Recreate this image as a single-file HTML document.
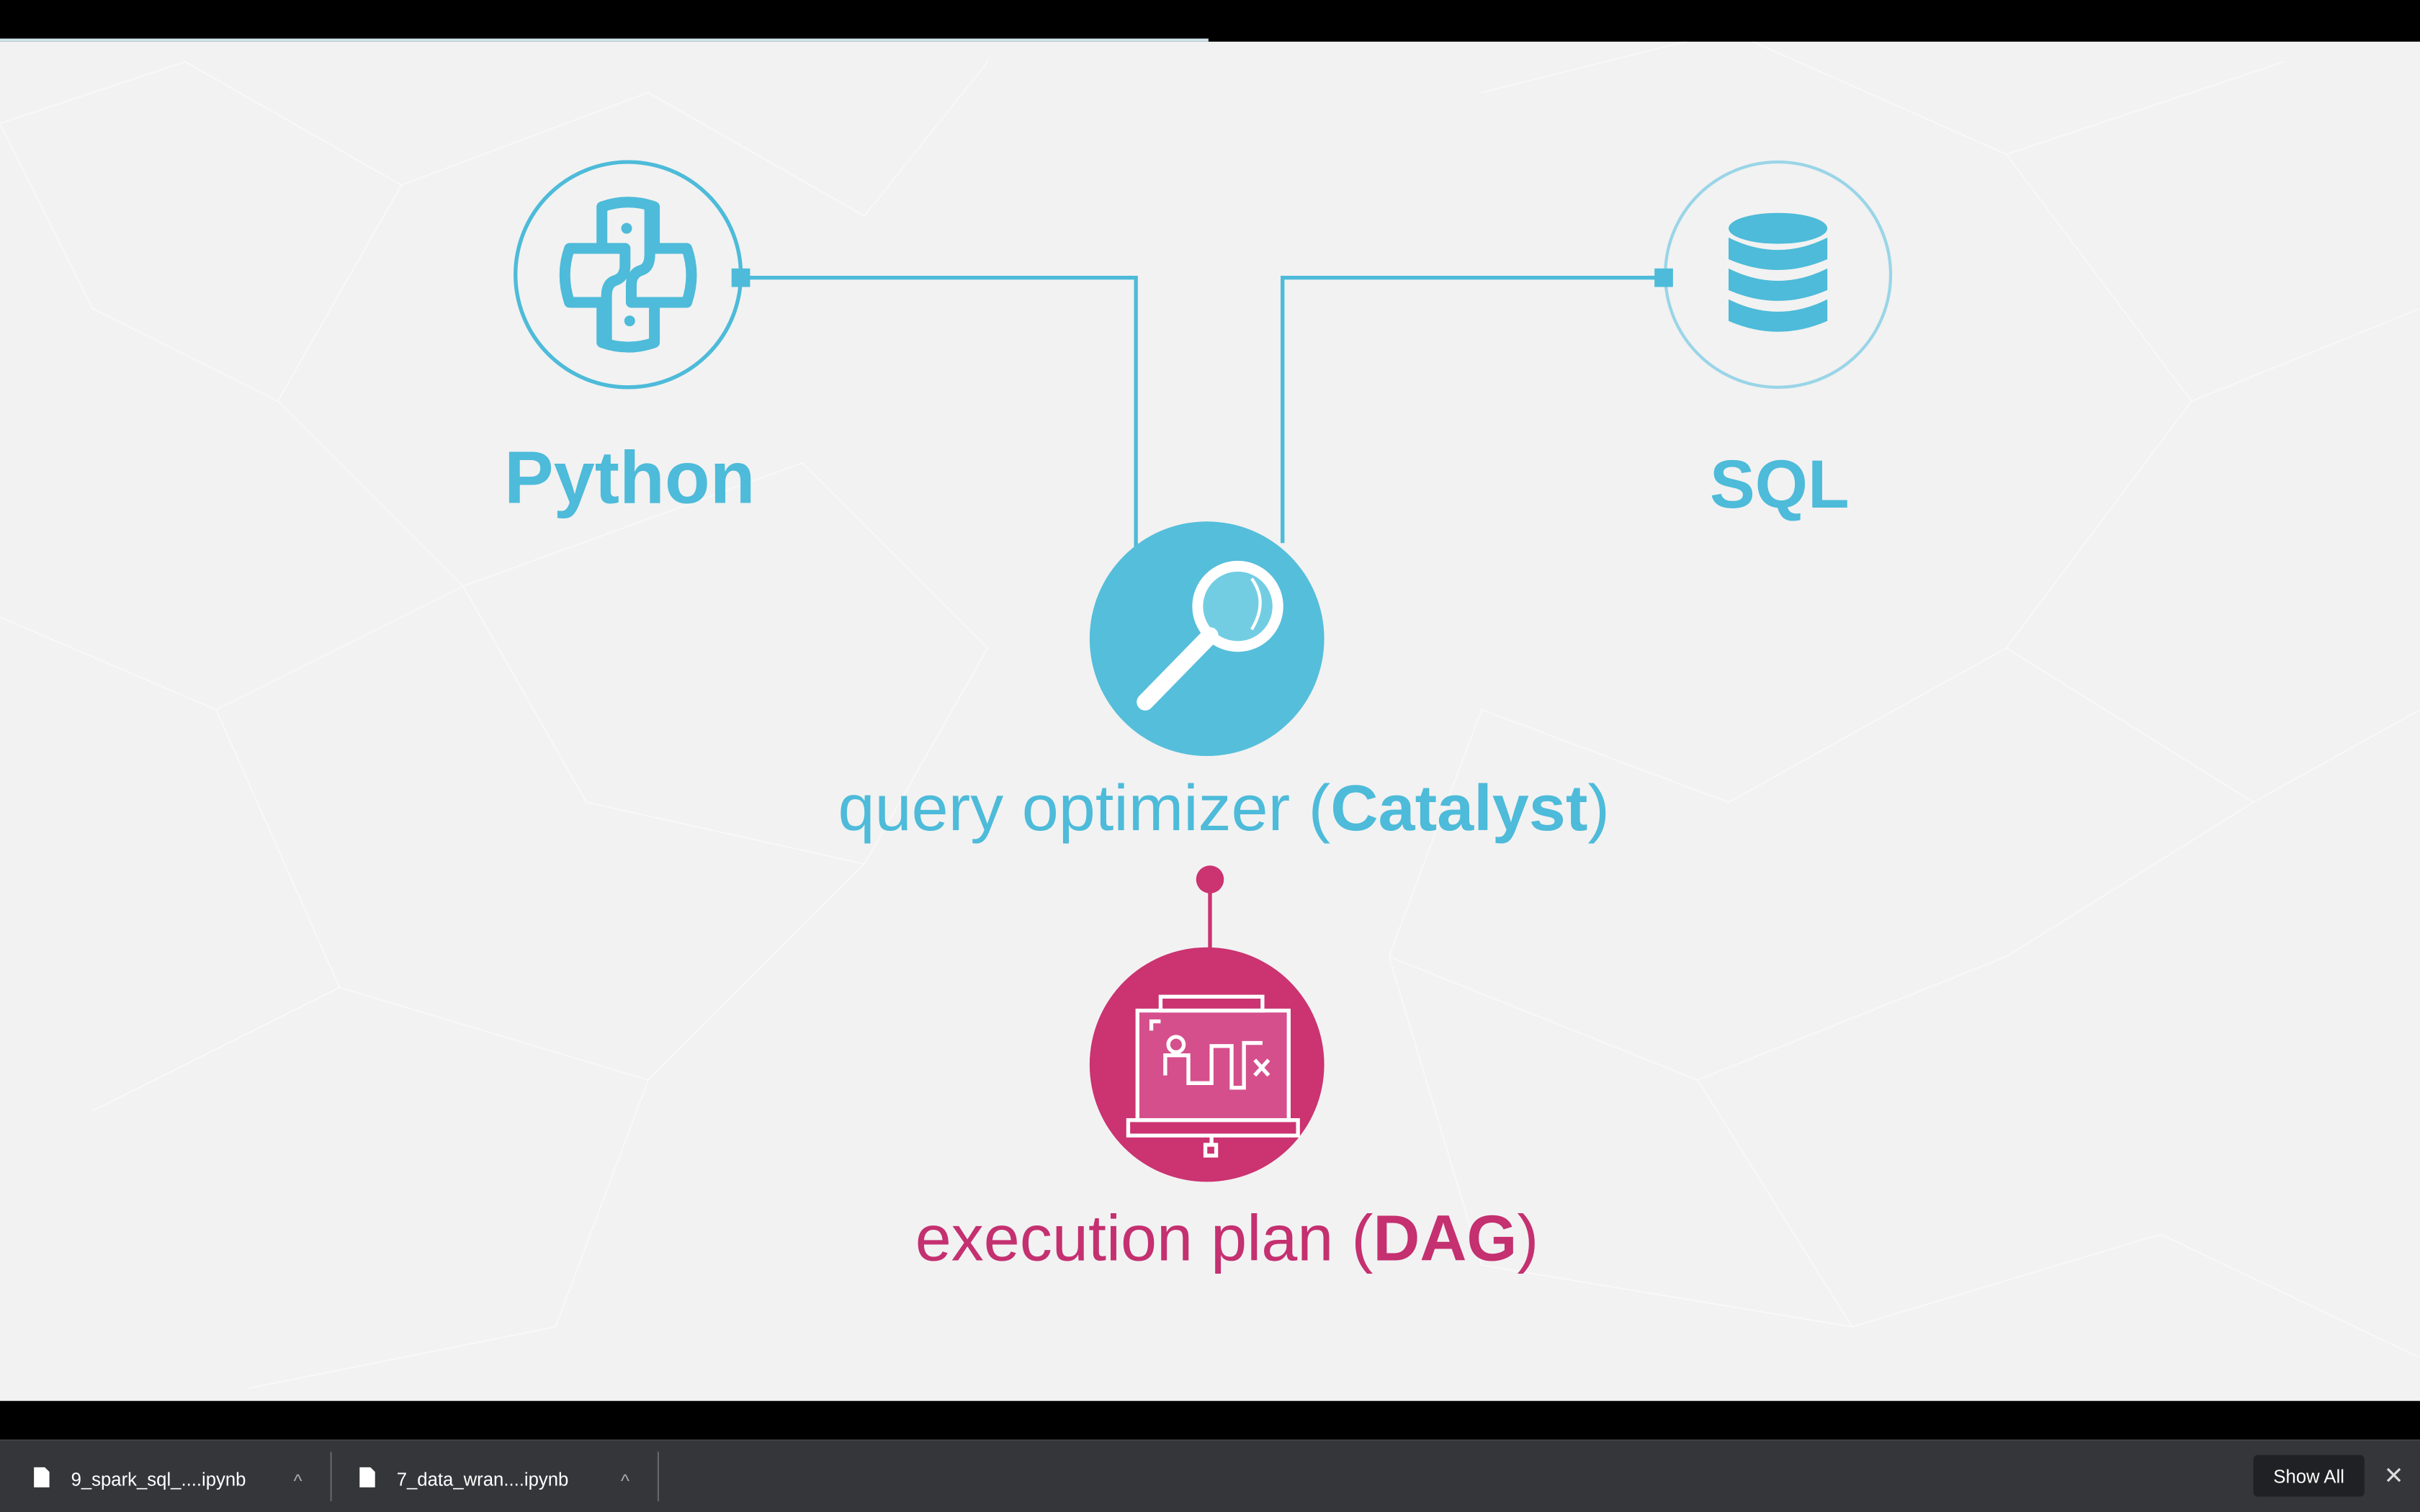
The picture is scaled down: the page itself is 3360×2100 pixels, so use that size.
<!DOCTYPE html>
<html><head><meta charset="utf-8"><style>
html,body{margin:0;padding:0;width:3360px;height:2100px;overflow:hidden;background:#000}
svg{display:block}
text{font-family:"Liberation Sans","DejaVu Sans",sans-serif}
</style></head><body>
<svg width="3360" height="2100" viewBox="0 0 1568 980" xmlns="http://www.w3.org/2000/svg">
<defs><clipPath id="c"><rect x="0" y="27" width="1568" height="881"/></clipPath></defs>
<rect x="0" y="0" width="1568" height="980" fill="#000"/>
<rect x="0" y="27" width="1568" height="881" fill="#f2f2f2"/>
<rect x="0" y="25" width="783" height="2" fill="#cfe3e8"/>
<g stroke="#ffffff" stroke-width="0.8" opacity="0.5" fill="none" clip-path="url(#c)">
<path d="M0 80 L120 40 L260 120 L180 260 L60 200 Z M260 120 L420 60 L560 140 L640 40 M180 260 L300 380 L140 460 L0 400 M300 380 L520 300 L640 420 L560 560 L380 520 Z M140 460 L220 640 L60 720 M220 640 L420 700 L560 560 M420 700 L360 860 L160 900 M960 60 L1120 20 L1300 100 L1480 40 M1300 100 L1420 260 L1568 200 M1420 260 L1300 420 L1460 520 L1568 460 M1300 420 L1120 520 L960 460 L900 620 L1100 700 L1300 620 L1460 520 M1100 700 L1200 860 L1400 800 L1568 880 M900 620 L960 820 L1200 860"/>
</g>
<!-- connectors -->
<g stroke="#4dbbd9" stroke-width="2.5" fill="none">
<path d="M480 180 H736 V356"/>
<path d="M1078 180 H831 V352"/>
</g>
<!-- python circle -->
<circle cx="407" cy="178" r="73" fill="none" stroke="#4dbbd9" stroke-width="2.5"/>
<rect x="474" y="174" width="12" height="12" fill="#4dbbd9"/>
<g fill="none" stroke="#4dbbd9" stroke-width="7" stroke-linejoin="round">
<path d="M390 134 Q407 128 424 134 V161 H445 Q451 178 445 196 H424 V222 Q407 228 390 222 V196 H369 Q363 178 369 161 H390 Z"/>
<path d="M390 161 H405 V172 Q405 180 398 182 Q393 184 393 192 V222"/>
<path d="M424 196 H409 V185 Q409 177 416 175 Q421 173 421 165 V134"/>
</g>
<circle cx="406" cy="148" r="3.5" fill="#4dbbd9"/>
<circle cx="408" cy="208" r="3.5" fill="#4dbbd9"/>
<!-- SQL circle -->
<circle cx="1152" cy="178" r="73" fill="none" stroke="#9ad5e8" stroke-width="2"/>
<rect x="1072" y="174" width="12" height="12" fill="#4dbbd9"/>
<g fill="#4dbbd9">
<ellipse cx="1152" cy="148" rx="32" ry="10"/>
<path d="M1120 154 Q1152 170 1184 154 V168 Q1152 182 1120 168 Z"/>
<path d="M1120 174 Q1152 190 1184 174 V188 Q1152 202 1120 188 Z"/>
<path d="M1120 194 Q1152 210 1184 194 V208 Q1152 222 1120 208 Z"/>
</g>
<!-- magnifier -->
<circle cx="782" cy="414" r="76" fill="#55bedb"/>
<circle cx="802" cy="393" r="26" fill="#72cde3" stroke="#fff" stroke-width="7"/>
<path d="M811 375 Q822 390 811 408" stroke="#fff" stroke-width="2" fill="none"/>
<line x1="784" y1="412" x2="742" y2="455" stroke="#fff" stroke-width="11" stroke-linecap="round"/>
<!-- pink -->
<circle cx="784" cy="570" r="9" fill="#cb3371"/>
<line x1="784" y1="570" x2="784" y2="616" stroke="#cb3371" stroke-width="2.5"/>
<circle cx="782" cy="690" r="76" fill="#cb3371"/>
<g fill="none" stroke="#fff" stroke-width="2.5">
<rect x="737" y="655" width="98" height="71" fill="#d54f8c"/>
<rect x="731" y="726" width="110" height="10"/>
<rect x="752" y="646" width="66" height="9"/>
<line x1="785" y1="736" x2="785" y2="742"/>
<rect x="781" y="742" width="7" height="7"/>
<circle cx="762" cy="677" r="5"/>
<path d="M755 697 V684 H770 V702 H785 V678 H798 V705 H806 V676 H818"/>
<path d="M746 668 V662 H752"/>
<path d="M813 687 L822 697 M822 687 L813 697"/>
</g>
<!-- labels -->
<text x="408" y="326" text-anchor="middle" font-size="48" font-weight="bold" fill="#4dbbd9">Python</text>
<text x="1153" y="329" text-anchor="middle" font-size="44" font-weight="bold" fill="#4dbbd9">SQL</text>
<text x="793" y="538" text-anchor="middle" font-size="42" fill="#4dbbd9" textLength="500" lengthAdjust="spacingAndGlyphs">query optimizer (<tspan font-weight="bold">Catalyst</tspan>)</text>
<text x="795" y="817" text-anchor="middle" font-size="42" fill="#c43070" textLength="404" lengthAdjust="spacingAndGlyphs">execution plan (<tspan font-weight="bold">DAG</tspan>)</text>
<!-- bottom bar -->
<rect x="0" y="934" width="1568" height="46" fill="#35363a"/>
<rect x="0" y="933" width="1568" height="1" fill="#444"/>
<path d="M22 951 H29 L32 954 V964 H22 Z" fill="#fff"/>
<text x="46" y="963" font-size="12" fill="#fff">9_spark_sql_....ipynb</text>
<text x="193" y="964" text-anchor="middle" font-size="12" fill="#aaa">^</text>
<rect x="214" y="941" width="1" height="32" fill="#666"/>
<path d="M233 951 H240 L243 954 V964 H233 Z" fill="#fff"/>
<text x="257" y="963" font-size="12" fill="#fff">7_data_wran....ipynb</text>
<text x="405" y="964" text-anchor="middle" font-size="12" fill="#aaa">^</text>
<rect x="426" y="941" width="1" height="32" fill="#666"/>
<rect x="1460" y="943" width="72" height="27" rx="3" fill="#202124"/>
<text x="1496" y="961" text-anchor="middle" font-size="12" fill="#fff">Show All</text>
<path d="M1547 952 L1555 960 M1555 952 L1547 960" stroke="#ddd" stroke-width="1.5"/>
</svg>
</body></html>
